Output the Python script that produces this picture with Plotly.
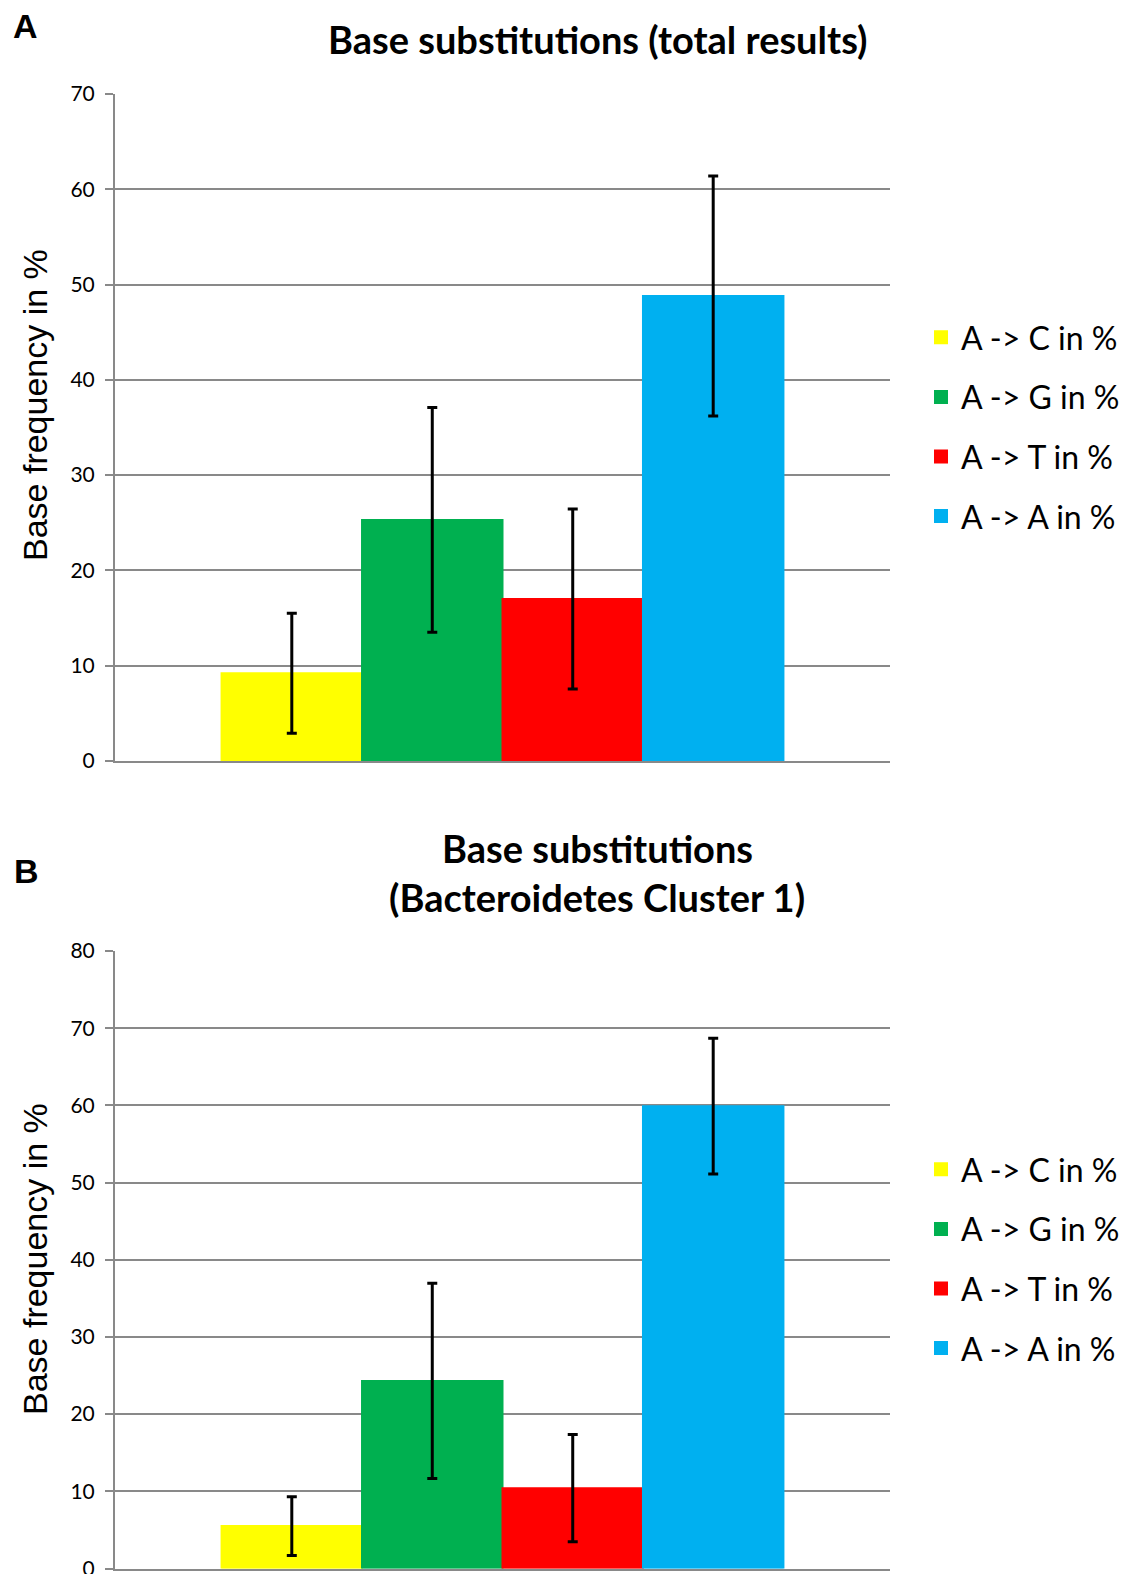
import plotly.graph_objects as go

# ---- data ----
categories = ["A -> C in %", "A -> G in %", "A -> T in %", "A -> A in %"]
colors = ["#FFFF00", "#00B050", "#FF0000", "#00B0F0"]

total_values = [9.2, 25.3, 17.0, 48.8]
total_errors = [6.3, 11.8, 9.45, 12.6]

bact_values = [5.5, 24.3, 10.4, 59.9]
bact_errors = [3.8, 12.65, 6.95, 8.8]

y_ticks_top = [0, 10, 20, 30, 40, 50, 60, 70]
y_ticks_bottom = [0, 10, 20, 30, 40, 50, 60, 70, 80]

W, H = 1126, 1574
GRID = "#898989"
TICKFONT = dict(family="Lato", size=21, color="black")
TITLEFONT = dict(family="Lato", size=38, color="black")
YTITLEFONT = dict(family="Liberation Sans, Arial", size=34, color="black")

fig = go.Figure()

for i, cat in enumerate(categories):
    fig.add_trace(go.Bar(
        x=["g"], y=[total_values[i]], name=cat,
        marker=dict(color=colors[i], line=dict(color=colors[i], width=2)),
        error_y=dict(type="data", array=[total_errors[i]], color="black", thickness=3, width=5),
        xaxis="x", yaxis="y", legend="legend", legendgroup="t%d" % i,
        offsetgroup=str(i),
    ))
for i, cat in enumerate(categories):
    fig.add_trace(go.Bar(
        x=["g"], y=[bact_values[i]], name=cat,
        marker=dict(color=colors[i], line=dict(color=colors[i], width=2)),
        error_y=dict(type="data", array=[bact_errors[i]], color="black", thickness=3, width=5),
        xaxis="x2", yaxis="y2", legend="legend2", legendgroup="b%d" % i,
        offsetgroup=str(i),
    ))

x_dom = [115 / W, 890 / W]
top_dom = [1 - 761 / H, 1 - 94 / H]
bot_dom = [1 - 1568.5 / H, 1 - 951 / H]

xaxis_common = dict(domain=x_dom, type="category", range=[-0.5, 0.5], showticklabels=False,
                    ticks="", showgrid=False, showline=True, linecolor=GRID, linewidth=2,
                    zeroline=False, automargin=False)
yaxis_common = dict(showline=True, linecolor=GRID, linewidth=2, ticks="outside", ticklen=8,
                    tickcolor=GRID, tickwidth=2, showgrid=True, gridcolor=GRID, gridwidth=2,
                    zeroline=False, tickfont=TICKFONT, ticklabelstandoff=6, automargin=False,
                    ticklabeloverflow="allow")

legend_common = dict(xanchor="left", yanchor="middle", font=dict(family="Lato", size=32, color="black"),
                     tracegroupgap=15, bgcolor="rgba(0,0,0,0)", borderwidth=0)

fig.update_layout(
    width=W, height=H,
    margin=dict(l=0, r=0, t=0, b=0, pad=0, autoexpand=False),
    paper_bgcolor="white", plot_bgcolor="white",
    barmode="group", bargap=0.275, bargroupgap=0,
    xaxis=dict(xaxis_common, anchor="y"),
    xaxis2=dict(xaxis_common, anchor="y2"),
    yaxis=dict(yaxis_common, domain=top_dom, anchor="x", range=[0, 70], tickvals=y_ticks_top),
    yaxis2=dict(yaxis_common, domain=bot_dom, anchor="x2", range=[0, 80], tickvals=y_ticks_bottom),
    legend=dict(legend_common, x=921 / W, y=1 - 427 / H),
    legend2=dict(legend_common, x=921 / W, y=1 - 1259 / H),
    showlegend=True,
    annotations=[
        dict(text="<b>Base substitutions (total results)</b>", x=597 / W, y=1 - 39 / H,
             xref="paper", yref="paper", xanchor="center", yanchor="middle", showarrow=False, font=TITLEFONT),
        dict(text="<b>Base substitutions</b>", x=597 / W, y=1 - 848 / H,
             xref="paper", yref="paper", xanchor="center", yanchor="middle", showarrow=False, font=TITLEFONT),
        dict(text="<b>(Bacteroidetes Cluster 1)</b>", x=597 / W, y=1 - 897 / H,
             xref="paper", yref="paper", xanchor="center", yanchor="middle", showarrow=False, font=TITLEFONT),
        dict(text="<b>A</b>", x=25 / W, y=1 - 26 / H, xref="paper", yref="paper",
             xanchor="center", yanchor="middle", showarrow=False,
             font=dict(family="Liberation Sans, Arial", size=34, color="black")),
        dict(text="<b>B</b>", x=26 / W, y=1 - 871 / H, xref="paper", yref="paper",
             xanchor="center", yanchor="middle", showarrow=False,
             font=dict(family="Liberation Sans, Arial", size=34, color="black")),
        dict(text="Base frequency in %", x=35 / W, y=1 - 405 / H, textangle=-90,
             xref="paper", yref="paper", xanchor="center", yanchor="middle", showarrow=False, font=YTITLEFONT),
        dict(text="Base frequency in %", x=35 / W, y=1 - 1259 / H, textangle=-90,
             xref="paper", yref="paper", xanchor="center", yanchor="middle", showarrow=False, font=YTITLEFONT),
    ],
)

fig.write_html("out.html", config={"displayModeBar": False},
               post_script="document.body.style.margin='0px';")
